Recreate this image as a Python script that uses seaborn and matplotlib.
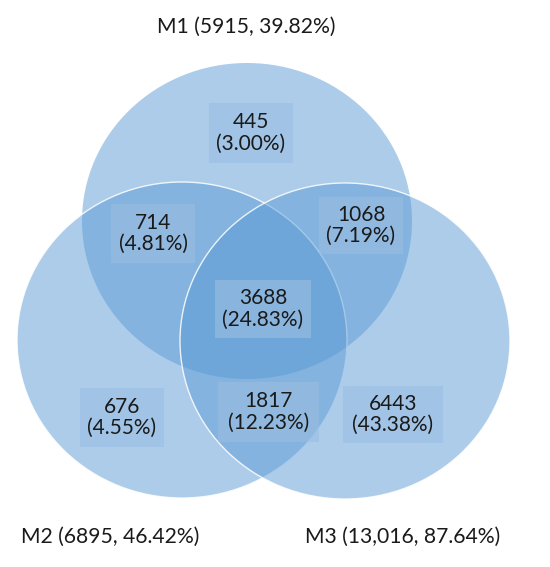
import matplotlib
matplotlib.use("Agg")
import matplotlib.pyplot as plt
from matplotlib.patches import Ellipse, Rectangle
import seaborn as sns

# ---- data ----
set_names = ["M1", "M2", "M3"]
set_totals = ["5915", "6895", "13,016"]
set_pcts = [39.82, 46.42, 87.64]

region_keys = ["M1 only", "M1&M2", "M1&M3", "M1&M2&M3", "M2 only", "M2&M3", "M3 only"]
region_counts = [445, 714, 1068, 3688, 676, 1817, 6443]
region_pcts = [3.00, 4.81, 7.19, 24.83, 4.55, 12.23, 43.38]

# ---- layout (pixel coordinates) ----
circle_centers = [(247, 221), (182, 340), (345, 341)]
circle_w, circle_h = 330, 316
set_label_pos = [(246, 27), (110, 537), (403, 537)]
box_rects = [  # x0, y0, x1, y1
    (209, 103, 293, 163),
    (111, 204, 195, 263),
    (319, 197, 403, 254),
    (215, 280, 311, 338),
    (80, 388, 164, 447),
    (218, 382, 319, 442),
    (343, 386, 443, 443),
]

sns.set_theme(style="white")
plt.rcParams["font.family"] = ["Lato", "DejaVu Sans"]

base = sns.color_palette(["#5B9BD5"])[0]
box_col = "#9BBEE3"

fig = plt.figure(figsize=(5.5, 5.67), dpi=100)
ax = fig.add_axes([0, 0, 1, 1])
ax.set_xlim(0, 550)
ax.set_ylim(567, 0)
ax.axis("off")

for i, (cx, cy) in enumerate(circle_centers):
    e = Ellipse((cx, cy), circle_w, circle_h,
                facecolor=(*base, 0.5),
                edgecolor=(1, 1, 1, 0.0 if i == 0 else 0.85),
                linewidth=1.0, zorder=1 + i)
    ax.add_patch(e)

for (x0, y0, x1, y1), n, p in zip(box_rects, region_counts, region_pcts):
    ax.add_patch(Rectangle((x0, y0), x1 - x0, y1 - y0,
                           facecolor=box_col, alpha=0.6, edgecolor="none", zorder=5))
    ax.text((x0 + x1) / 2, (y0 + y1) / 2, f"{n}\n({p:.2f}%)",
            ha="center", va="center", fontsize=15, color="#1a1a1a",
            linespacing=1.1, zorder=6)

for (x, y), name, tot, pct in zip(set_label_pos, set_names, set_totals, set_pcts):
    ax.text(x, y, f"{name} ({tot}, {pct:.2f}%)", ha="center", va="center",
            fontsize=15.2, color="#1a1a1a", zorder=6)

fig.savefig("out.png", dpi=100)
